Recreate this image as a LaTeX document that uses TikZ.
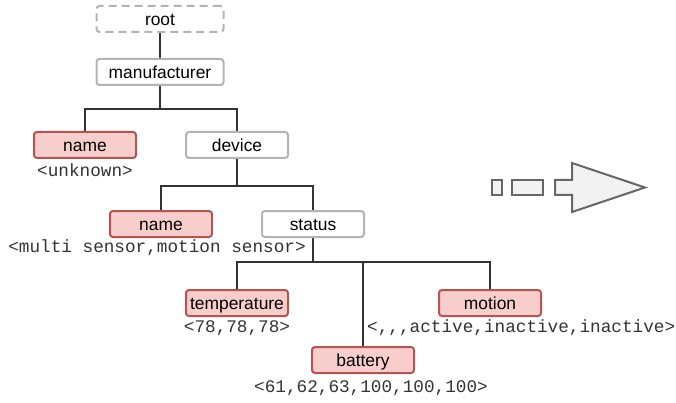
\documentclass[tikz,border=0pt]{standalone}
\usepackage{fontspec}
\usetikzlibrary{backgrounds}
\setmainfont{Liberation Sans}
\setmonofont{Liberation Mono}
\definecolor{boxgray}{HTML}{B3B3B3}
\definecolor{redfill}{HTML}{F8CECC}
\definecolor{redline}{HTML}{B85450}
\definecolor{wire}{HTML}{333333}
\definecolor{arrowfill}{HTML}{F2F2F2}
\definecolor{arrowline}{HTML}{666666}
\begin{document}
\begin{tikzpicture}[x=1pt,y=-1pt,
  box/.style={draw=boxgray, fill=white, line width=2pt, rounded corners=3pt,
    minimum width=102pt, minimum height=26pt, inner sep=0pt,
    text height=13pt, text depth=0pt,
    font=\fontsize{17.4}{20}\selectfont},
  widebox/.style={box, minimum width=127pt},
  leaf/.style={box, draw=redline, fill=redfill},
  ghost/.style={widebox, dash pattern=on 8pt off 5pt},
  val/.style={font=\ttfamily\fontsize{17.7}{20}\selectfont, text=wire, inner sep=0pt},
  wire/.style={draw=wire, line width=2.7pt},
  blockarrow/.style={draw=arrowline, fill=arrowfill, line width=2pt}]
\useasboundingbox (0,0) rectangle (676,403);

% tree nodes
\node[ghost] (root) at (160,19) {root};
\node[widebox] (manu) at (160,72) {manufacturer};
\node[leaf] (mname) at (85,145) {name};
\node[box] (device) at (237,145) {device};
\node[leaf] (dname) at (161,224) {name};
\node[box] (status) at (313,224) {status};
\node[leaf] (temp) at (237,303) {temperature};
\node[leaf] (motion) at (490,303) {motion};
\node[leaf] (battery) at (363,360) {battery};

% value lists under the leaves
\node[val] (v1) at (85,170) {<unknown>};
\node[val] (v2) at (157,248) {<multi sensor,motion sensor>};
\node[val] (v3) at (237,328) {<78,78,78>};
\node[val, anchor=west] (v4) at (367,328) {<,,,active,inactive,inactive>};
\node[val] (v5) at (371,388) {<61,62,63,100,100,100>};

% elbow connectors behind the boxes
\coordinate (j1) at (160,109);
\coordinate (j2) at (237,186);
\coordinate (j3) at (313,262);
\begin{pgfonlayer}{background}
\draw[wire] (root.south) -- (manu.north);
\draw[wire] (manu.south) -- (j1);
\draw[wire] (j1) -| (mname.north);
\draw[wire] (j1) -| (device.north);
\draw[wire] (device.south) -- (j2);
\draw[wire] (j2) -| (dname.north);
\draw[wire] (j2) -| (status.north);
\draw[wire] (status.south) -- (j3);
\draw[wire] (j3) -| (temp.north);
\draw[wire] (j3) -| (motion.north);
\draw[wire] (j3) -| (battery.north);
\end{pgfonlayer}

% dashed block arrow
\draw[blockarrow] (492,180) rectangle (502,195);
\draw[blockarrow] (512,180) rectangle (543,195);
\draw[blockarrow] (555,180) -- (572,180) -- (572,163) -- (645,187.5)
  -- (572,212) -- (572,195) -- (555,195) -- cycle;
\end{tikzpicture}
\end{document}
